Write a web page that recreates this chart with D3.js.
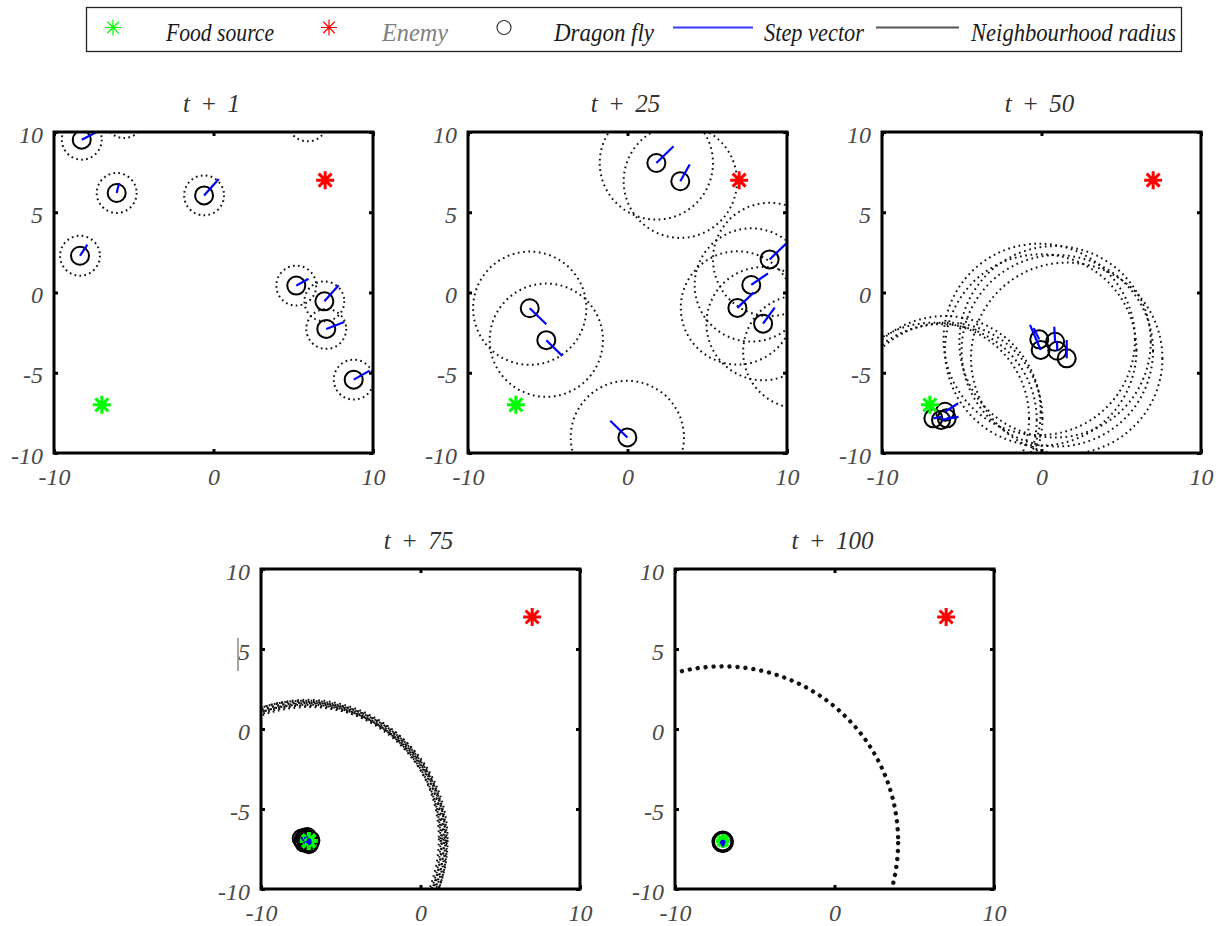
<!DOCTYPE html>
<html><head><meta charset="utf-8">
<script src="https://cdn.jsdelivr.net/npm/d3@7"></script>
<style>body{margin:0;background:#fff} svg{display:block}</style>
</head><body><svg id="c" width="1219" height="926"></svg>
<script>
// ---------------- data ----------------
const panelTitles = ["t + 1", "t + 25", "t + 50", "t + 75", "t + 100"];
const xTicks = [-10, 0, 10];
const yTicks = [-10, -5, 0, 5, 10];
const foodSource = [-7, -7];
const enemyPos = [7, 7];
const neighbourhoodRadius = [1.25, 3.55, 6.0, 8.6, 11.0];
const legendLabels = ["Food source", "Enemy", "Dragon fly", "Step vector", "Neighbourhood radius"];

// dragonflies: [x, y, step dx, step dy]
const dragonfliesT1 = [
  [-8.26, 9.52, 0.90, 0.46], [-6.07, 6.20, 0.15, 0.62], [-0.59, 6.05, 0.92, 1.02],
  [-8.37, 2.29, 0.46, 0.69], [5.19, 0.43, 0.77, 0.43], [6.95, -0.55, 0.90, 1.00],
  [7.07, -2.27, 1.13, 0.43], [8.79, -5.43, 1.00, 0.56],
  [-5.61, 10.87, 0.5, 0.5], [5.90, 10.66, 0.5, 0.5]
];
const dragonfliesT25 = [
  [1.81, 8.07, 1.08, 1.04], [3.31, 6.93, 0.59, 1.04], [8.91, 2.06, 1.09, 1.04],
  [7.76, 0.47, 1.05, 0.72], [6.89, -0.96, 1.02, 0.95], [8.50, -1.94, 0.73, 1.00],
  [-6.13, -0.98, 1.04, -1.00], [-5.09, -2.97, 1.00, -0.98], [-0.01, -9.03, -1.07, 1.04],
  [10.8, -3.7, 1.0, 1.0]
];
const dragonfliesT50 = [
  [-0.14, -2.92, -0.35, 0.70], [-0.05, -3.58, -0.67, 1.56], [0.85, -3.07, -0.05, 0.94],
  [0.99, -3.63, -0.02, 0.60], [1.58, -4.10, 0.00, 1.14],
  [-6.78, -7.84, 0.50, 0.10], [-6.30, -7.94, 0.90, 0.15], [-6.05, -7.43, 0.83, 0.53],
  [-5.94, -7.84, 0.74, 0.09], [2.75, -15.95, 0, 0]
];
const dragonfliesT75 = [
  [-7.45, -6.85, 0, 0], [-7.35, -6.95, 0, 0], [-7.25, -6.80, 0, 0], [-7.15, -7.05, 0, 0],
  [-7.05, -6.90, 0.02, -0.25], [-6.95, -7.10, 0.0, 0.2], [-6.90, -6.95, 0, -0.2],
  [-7.30, -7.10, 0, 0], [-7.10, -6.75, 0, 0], [-7.00, -7.20, 0, 0]
];
const dragonfliesT100 = [
  [-7.00, -7.00, -0.10, -0.10], [-7.06, -7.04, 0.08, -0.15], [-6.96, -7.06, -0.04, -0.2],
  [-7.02, -7.10, 0.1, 0.05]
];
const dragonflies = [dragonfliesT1, dragonfliesT25, dragonfliesT50, dragonfliesT75, dragonfliesT100];

// ---------------- layout / style ----------------
const panelBoxes = [
  {x: 54, y: 132, w: 319, h: 321}, {x: 468, y: 132, w: 319, h: 321},
  {x: 882, y: 132, w: 319, h: 321}, {x: 261, y: 569, w: 319, h: 320},
  {x: 675, y: 569, w: 319, h: 320}
];
const dotStyle = [
  {w: 2, dash: "1.7,3.3"}, {w: 2, dash: "1.7,3.6"}, {w: 2, dash: "1.7,3.6"},
  {w: 2, dash: "1.7,3.6"}, {w: 2.6, dash: "2.6,5.4"}
];
const serif = "'Liberation Serif','DejaVu Serif',serif";

const svg = d3.select("#c");

function starPath(cx, cy, s) {
  const d = s * 0.72;
  return `M${cx - s},${cy}L${cx + s},${cy}M${cx},${cy - s}L${cx},${cy + s}` +
         `M${cx - d},${cy - d}L${cx + d},${cy + d}M${cx - d},${cy + d}L${cx + d},${cy - d}`;
}

panelBoxes.forEach((b, i) => {
  const x = d3.scaleLinear().domain([-10, 10]).range([b.x, b.x + b.w]);
  const y = d3.scaleLinear().domain([-10, 10]).range([b.y + b.h, b.y]);
  const g = svg.append("g");
  const clipId = "clip" + i;
  svg.append("clipPath").attr("id", clipId).append("rect")
    .attr("x", b.x).attr("y", b.y).attr("width", b.w).attr("height", b.h);
  const pg = g.append("g").attr("clip-path", `url(#${clipId})`);
  const data = dragonflies[i];
  const rPx = x(neighbourhoodRadius[i]) - x(0);

  // neighbourhood radius circles
  pg.selectAll("circle.nb").data(data).join("circle").attr("class", "nb")
    .attr("cx", d => x(d[0])).attr("cy", d => y(d[1])).attr("r", rPx)
    .attr("fill", "none").attr("stroke", "#111")
    .attr("stroke-width", dotStyle[i].w).attr("stroke-dasharray", dotStyle[i].dash);

  // dragonflies
  pg.selectAll("circle.df").data(data).join("circle").attr("class", "df")
    .attr("cx", d => x(d[0])).attr("cy", d => y(d[1])).attr("r", i === 4 ? 9.5 : 9)
    .attr("fill", "none").attr("stroke", "#000").attr("stroke-width", 2);

  // food & enemy
  pg.append("path").attr("d", starPath(x(foodSource[0]), y(foodSource[1]), i === 4 ? 7 : 9))
    .attr("stroke", "#00ff00").attr("stroke-width", i >= 3 ? 4 : 3).attr("fill", "none");
  pg.append("path").attr("d", starPath(x(enemyPos[0]), y(enemyPos[1]), 9))
    .attr("stroke", "#ff0000").attr("stroke-width", 3).attr("fill", "none");

  // step vectors
  pg.selectAll("line.sv").data(data).join("line").attr("class", "sv")
    .attr("x1", d => x(d[0])).attr("y1", d => y(d[1]))
    .attr("x2", d => x(d[0] + d[2])).attr("y2", d => y(d[1] + d[3]))
    .attr("stroke", "#0000ff").attr("stroke-width", i === 4 ? 3 : 2.2)
    .attr("stroke-linecap", i >= 3 ? "round" : "butt");

  // axes
  const fmt = d => String(d);
  const ax = (gen, tr, labels) => {
    const a = g.append("g").attr("transform", tr).call(gen);
    a.select(".domain").remove();
    a.selectAll(".tick line").attr("stroke", "#000").attr("stroke-width", 3);
    if (!labels) a.selectAll(".tick text").remove();
    else a.selectAll(".tick text").attr("font-family", serif).attr("font-style", "italic")
      .attr("font-size", 24).attr("fill", "#4a4a4a");
    return a;
  };
  ax(d3.axisBottom(x).tickValues(xTicks).tickFormat(fmt).tickSize(-4).tickPadding(15),
     `translate(0,${b.y + b.h})`, true);
  const la = ax(d3.axisLeft(y).tickValues(yTicks).tickFormat(fmt).tickSize(-4).tickPadding(11),
     `translate(${b.x},0)`, true);
  la.selectAll(".tick text").attr("dy", "0.42em");
  ax(d3.axisTop(x).tickValues(xTicks).tickSize(-4), `translate(0,${b.y})`, false);
  ax(d3.axisRight(y).tickValues(yTicks).tickSize(-4), `translate(${b.x + b.w},0)`, false);

  // box
  g.append("rect").attr("x", b.x).attr("y", b.y).attr("width", b.w).attr("height", b.h)
    .attr("fill", "none").attr("stroke", "#000").attr("stroke-width", 3);

  // title
  g.append("text").attr("x", b.x + b.w / 2 - 2).attr("y", b.y - 20)
    .attr("text-anchor", "middle").attr("font-family", serif).attr("font-style", "italic")
    .attr("font-size", 25).attr("word-spacing", 4).attr("fill", "#333").text(panelTitles[i]);

  if (i === 3) {
    // stray caret mark left of the "5" label
    g.append("line").attr("x1", b.x - 23).attr("x2", b.x - 23)
      .attr("y1", y(5) - 11).attr("y2", y(5) + 22).attr("stroke", "#777").attr("stroke-width", 1.3);
  }
});

// ---------------- legend ----------------
const lg = svg.append("g");
lg.append("rect").attr("x", 86.5).attr("y", 7.5).attr("width", 1095).attr("height", 44)
  .attr("fill", "#fff").attr("stroke", "#222").attr("stroke-width", 1.3);
const ly = 27.5, lb = 40.5;
lg.append("path").attr("d", starPath(113, ly, 8)).attr("stroke", "#00ff00").attr("stroke-width", 1.2).attr("fill", "none");
lg.append("path").attr("d", starPath(329, ly, 8)).attr("stroke", "#ff0000").attr("stroke-width", 1.2).attr("fill", "none");
lg.append("circle").attr("cx", 504).attr("cy", ly).attr("r", 7).attr("fill", "none").attr("stroke", "#333").attr("stroke-width", 1.2);
lg.append("line").attr("x1", 673).attr("x2", 753).attr("y1", ly).attr("y2", ly).attr("stroke", "#3a3aff").attr("stroke-width", 2);
lg.append("line").attr("x1", 876).attr("x2", 959).attr("y1", ly).attr("y2", ly).attr("stroke", "#555").attr("stroke-width", 2);
const legendTextPos = [[166, 108], [382, 66], [554, 100], [764, 100], [971, 205]];
legendLabels.forEach((t, k) => {
  lg.append("text").attr("x", legendTextPos[k][0]).attr("y", lb)
    .attr("font-family", serif).attr("font-style", "italic").attr("font-size", 25)
    .attr("textLength", legendTextPos[k][1]).attr("lengthAdjust", "spacingAndGlyphs")
    .attr("fill", k === 1 ? "#808080" : "#1a1a1a").text(t);
});
</script></body></html>
